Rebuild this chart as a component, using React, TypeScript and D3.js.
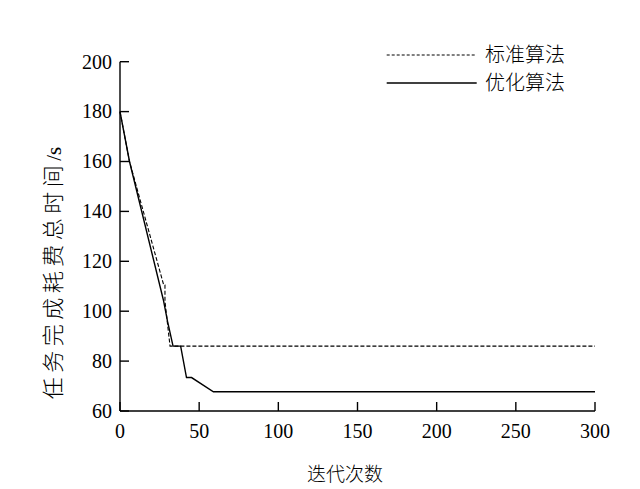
import React from "react";
import * as d3 from "d3";

const seriesNames = ["标准算法", "优化算法"];
const standardX = [0, 6, 27.6, 28.4, 28.4, 31.6, 300];
const standardY = [180, 160, 110.5, 110.5, 104, 86, 86];
const optimizedX = [0, 6, 27.4, 30, 33.5, 38.3, 42, 45.2, 59, 300];
const optimizedY = [180, 160, 104.5, 96, 86, 86, 73.4, 73.4, 67.7, 67.7];
const xTicks = [0, 50, 100, 150, 200, 250, 300];
const yTicks = [60, 80, 100, 120, 140, 160, 180, 200];
const xTitle = "迭代次数";
const yTitleMain = "任务完成耗费总时间";
const yTitleUnit = "/s";

const W = 640;
const H = 489;
const serif = "Liberation Serif, Times New Roman, Times, serif";
const cjk = "Noto Sans CJK SC, Noto Sans CJK JP, sans-serif";

export default function App() {
  const x = d3.scaleLinear().domain([0, 300]).range([120, 595]);
  const y = d3.scaleLinear().domain([60, 200]).range([411, 61.7]);
  const line = d3
    .line<[number, number]>()
    .x((d) => x(d[0]))
    .y((d) => y(d[1]));
  const std = standardX.map((v, i) => [v, standardY[i]] as [number, number]);
  const opt = optimizedX.map((v, i) => [v, optimizedY[i]] as [number, number]);
  const tickLen = 9;
  return (
    <svg
      width={W}
      height={H}
      style={{ position: "absolute", left: 0, top: 0, background: "#fff" }}
    >
      <rect x={0} y={0} width={W} height={H} fill="#fff" />
      <path d={line(std) || ""} fill="none" stroke="#000" strokeWidth={1.1} strokeDasharray="4 2" />
      <path d={line(opt) || ""} fill="none" stroke="#000" strokeWidth={1.4} />
      <line x1={x(0)} x2={x(300)} y1={y(60)} y2={y(60)} stroke="#000" strokeWidth={1.4} />
      <line x1={x(0)} x2={x(0)} y1={y(60)} y2={y(200)} stroke="#000" strokeWidth={1.4} />
      {xTicks.map((t) => (
        <g key={"x" + t}>
          <line x1={x(t)} x2={x(t)} y1={y(60)} y2={y(60) - tickLen} stroke="#000" strokeWidth={1.4} />
          <text x={x(t)} y={438} textAnchor="middle" style={{ fontFamily: serif, fontSize: 20 }} fill="#000">
            {t}
          </text>
        </g>
      ))}
      {yTicks.map((t) => (
        <g key={"y" + t}>
          <line x1={x(0)} x2={x(0) + tickLen} y1={y(t)} y2={y(t)} stroke="#000" strokeWidth={1.4} />
          <text x={112} y={y(t)} dy="0.34em" textAnchor="end" style={{ fontFamily: serif, fontSize: 20 }} fill="#000">
            {t}
          </text>
        </g>
      ))}
      <text x={345} y={481} textAnchor="middle" style={{ fontFamily: cjk, fontWeight: 300, fontSize: 19 }} fill="#000">
        {xTitle}
      </text>
      <text
        transform={`translate(61,273) rotate(-90)`}
        textAnchor="middle"
        fill="#000"
        style={{ fontFamily: cjk, fontWeight: 300, fontSize: 22 }}
      >
        <tspan style={{ letterSpacing: "4.5px" }}>{yTitleMain}</tspan>
        <tspan style={{ fontFamily: serif, fontSize: 21, letterSpacing: "0px" }}>{yTitleUnit}</tspan>
      </text>
      <line x1={386.7} x2={476.7} y1={55} y2={55} stroke="#000" strokeWidth={1} strokeDasharray="3 2" />
      <text x={485} y={55} dy="0.36em" style={{ fontFamily: cjk, fontWeight: 300, fontSize: 20 }} fill="#000">
        {seriesNames[0]}
      </text>
      <line x1={386.7} x2={476.7} y1={83} y2={83} stroke="#000" strokeWidth={1.4} />
      <text x={485} y={83} dy="0.36em" style={{ fontFamily: cjk, fontWeight: 300, fontSize: 20 }} fill="#000">
        {seriesNames[1]}
      </text>
    </svg>
  );
}
